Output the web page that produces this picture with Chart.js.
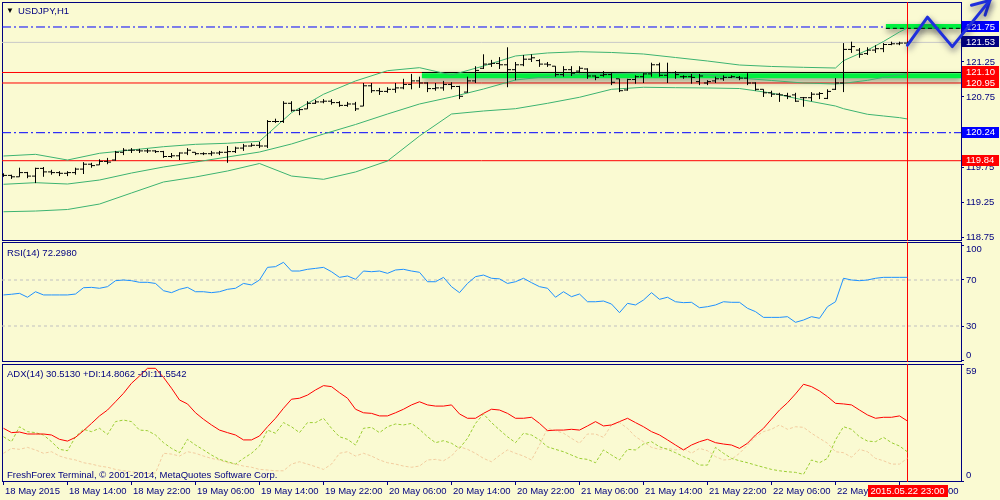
<!DOCTYPE html>
<html>
<head>
<meta charset="utf-8">
<script src="https://cdn.jsdelivr.net/npm/chart.js@4.4.1/dist/chart.umd.min.js"></script>
<style>
  html, body { margin: 0; padding: 0; background: #FAFAD2; }
  #wrap { position: relative; width: 1000px; height: 500px; overflow: hidden; }
  canvas { position: absolute; left: 0; }
  .lbl { position: absolute; font: 9.5px "Liberation Sans", Arial, sans-serif; color: #000080; line-height: 11px; white-space: nowrap; }
</style>
</head>
<body>
<div id="wrap">
  <canvas id="price" width="1000" height="242" style="top:0"></canvas>
  <canvas id="rsi" width="1000" height="121" style="top:242px"></canvas>
  <canvas id="adx" width="1000" height="138" style="top:362px"></canvas>
  <div class="lbl" style="left:6px;top:5px;color:#000;font-size:8px">▼</div>
  <div class="lbl" style="left:18px;top:5px">USDJPY,H1</div>
  <div class="lbl" style="left:7px;top:247px">RSI(14) 72.2980</div>
  <div class="lbl" style="left:7px;top:368px">ADX(14) 30.5130 +DI:14.8062 -DI:11.5542</div>
  <div class="lbl" style="left:7px;top:469px">FreshForex Terminal, © 2001-2014, MetaQuotes Software Corp.</div>
</div>
<script>
const NAVY = "#000080"
const FAMILY = "'Liberation Sans', Arial, sans-serif"
const FONT = { family: FAMILY, size: 9.5 }
const X_MIN = -0.1875
const X_MAX = 119.6875
const P_MIN = 118.693
const P_MAX = 122.107

// H1 bars, 18 May 06:00 .. 22 May 23:00
const openP = [
  119.64,119.63,119.61,119.67,119.62,119.73,119.68,119.67,119.66,119.67,
  119.72,119.79,119.78,119.83,119.85,119.96,119.99,119.99,119.98,119.98,
  119.97,119.90,119.91,119.95,119.96,119.94,119.94,119.95,119.96,119.97,
  120.02,120.05,120.06,120.05,120.40,120.40,120.66,120.56,120.58,120.66,
  120.68,120.69,120.67,120.63,120.65,120.62,120.91,120.84,120.83,120.86,
  120.88,120.93,120.98,120.95,120.87,120.88,120.93,120.90,120.82,120.98,
  121.16,121.22,121.23,121.21,121.14,121.21,121.29,121.27,121.22,121.19,
  121.07,121.14,121.12,121.15,121.05,121.06,121.07,121.01,120.85,121.00,
  121.04,121.08,121.21,121.06,121.10,121.04,121.04,120.97,120.95,120.98,
  121.01,121.03,121.03,121.02,120.95,120.86,120.81,120.79,120.77,120.78,
  120.74,120.74,120.79,120.73,120.86,120.95,121.43,121.42,121.37,121.42,
  121.44,121.50,121.51,121.52]
const highP = [
  119.66,119.64,119.74,119.68,119.74,119.75,119.71,119.69,119.69,119.74,
  119.82,119.81,119.86,119.88,119.98,120.02,120.02,120.01,120.01,119.99,
  119.98,119.95,119.96,120.02,119.96,119.96,119.98,119.98,120.05,120.04,
  120.08,120.09,120.11,120.42,120.44,120.69,120.69,120.59,120.69,120.71,
  120.72,120.72,120.69,120.68,120.68,120.95,120.95,120.88,120.89,120.95,
  121.01,121.08,121.04,120.96,120.95,120.98,120.96,120.91,121.04,121.19,
  121.36,121.28,121.32,121.46,121.25,121.35,121.36,121.29,121.25,121.19,
  121.19,121.19,121.19,121.16,121.06,121.12,121.09,121.01,121.01,121.06,
  121.09,121.24,121.24,121.24,121.12,121.06,121.08,121.08,120.99,121.04,
  121.06,121.06,121.05,121.09,120.96,120.86,120.84,120.81,120.81,120.81,
  120.75,120.82,120.82,120.86,121.02,121.52,121.54,121.45,121.46,121.49,
  121.52,121.54,121.54,121.54]
const lowP = [
  119.61,119.58,119.61,119.59,119.52,119.61,119.64,119.62,119.62,119.64,
  119.65,119.74,119.78,119.79,119.84,119.92,119.95,119.95,119.95,119.95,
  119.88,119.88,119.85,119.92,119.92,119.92,119.91,119.92,119.81,119.95,
  119.98,120.04,120.02,120.02,120.38,120.38,120.54,120.49,120.58,120.65,
  120.66,120.64,120.61,120.61,120.55,120.62,120.81,120.78,120.81,120.81,
  120.86,120.86,120.88,120.82,120.84,120.84,120.86,120.72,120.81,120.95,
  121.15,121.18,121.15,120.89,120.99,121.19,121.25,121.18,121.18,121.04,
  121.04,121.05,121.09,121.01,120.99,121.04,120.92,120.82,120.84,120.94,
  120.95,121.04,121.04,120.95,121.01,121.01,120.94,120.92,120.92,120.95,
  120.98,121.02,120.99,120.92,120.84,120.75,120.75,120.68,120.72,120.68,
  120.61,120.69,120.72,120.72,120.85,120.82,121.38,121.31,121.35,121.38,
  121.39,121.49,121.49,121.51]
const closeP = [
  119.63,119.61,119.67,119.62,119.73,119.68,119.67,119.66,119.67,119.72,
  119.79,119.77,119.83,119.82,119.96,119.99,119.99,119.98,119.98,119.97,
  119.90,119.91,119.95,119.99,119.94,119.94,119.95,119.96,119.97,120.02,
  120.05,120.06,120.05,120.40,120.40,120.66,120.56,120.57,120.66,120.68,
  120.69,120.67,120.63,120.65,120.58,120.91,120.84,120.83,120.86,120.88,
  120.93,120.98,120.95,120.87,120.88,120.93,120.90,120.76,120.98,121.13,
  121.22,121.23,121.21,121.14,121.21,121.29,121.31,121.22,121.21,121.07,
  121.14,121.09,121.16,121.05,121.03,121.07,120.96,120.84,121.00,121.04,
  121.08,121.21,121.06,121.10,121.07,121.04,121.03,121.05,120.97,121.01,
  121.03,121.04,121.02,120.95,120.86,120.81,120.79,120.78,120.76,120.69,
  120.74,120.79,120.80,120.83,120.95,121.43,121.47,121.36,121.42,121.44,
  121.50,121.51,121.52,121.53]

// Bollinger bands read at these bars
const bbIdx = [0,4,8,12,16,20,24,28,32,36,40,44,48,52,56,60,64,68,72,76,80,84,88,92,96,100,104,105,108,110,112,113]
const bbUpper = [119.907,119.931,119.850,119.946,119.993,120.040,120.074,120.089,120.117,120.526,120.789,120.979,121.126,121.169,121.064,121.193,
  121.336,121.379,121.397,121.386,121.364,121.314,121.264,121.207,121.186,121.174,121.164,121.269,121.421,121.543,121.679,121.736]
const bbMiddle = [119.503,119.526,119.507,119.564,119.664,119.750,119.821,119.893,119.964,120.079,120.221,120.357,120.507,120.650,120.750,120.864,
  120.993,121.043,121.071,121.086,121.093,121.086,121.064,121.021,120.986,120.950,120.936,120.946,120.988,121.031,121.069,121.086]
const bbLower = [119.111,119.121,119.143,119.221,119.379,119.536,119.607,119.693,119.800,119.621,119.574,119.679,119.836,120.193,120.507,120.550,
  120.583,120.660,120.746,120.860,120.889,120.883,120.879,120.871,120.807,120.707,120.621,120.583,120.503,120.479,120.455,120.436]

const rsiVals = [
  57,57.6,58.4,55,59.8,57,57,57,57,57.8,
  63.3,63.6,62.8,64.2,69.4,70,69.4,68,68,67,
  60.7,59,61.9,63.6,59.8,59.8,59,59.8,61.9,62.8,
  67,65.7,70,81,81.6,85.4,77.8,77.8,79.3,80.1,
  81,77.2,72.3,73.5,70.6,77.8,77.2,77.8,75.8,78.7,
  79.3,77.8,76.7,68.5,68.5,72.3,64.2,59,67,72.9,
  74.3,71.5,71,67,68.5,71.5,67.7,64.2,62.8,55,
  59.8,55.5,57.8,51.1,51.1,51.7,49.1,41.6,49.7,48.3,
  52.6,59,53.2,55,51.1,50.3,50.6,45.9,46.8,48.3,
  51.1,50.6,50.6,45.4,42.5,37.5,37.5,37.5,38.1,33.2,
  35.2,38.1,36.7,46.8,51.1,71.5,70,69.4,70,71.5,
  72.3,72.3,72.3,72.3]

const adxVals = [
  26.8,24.6,24.9,23.9,23.9,23.9,23.4,21.2,20.3,22.2,
  25.6,29.3,33.1,36.1,40.3,44.6,49.7,53.4,57.3,57.3,
  52.7,47.2,41.2,39.2,34.7,31.4,28.5,25.9,24.6,23.4,
  20.9,20.9,22.9,27.6,31.9,37.0,41.6,42.1,43.7,46.3,
  48.5,48.0,44.9,42.1,36.5,34.7,34.4,33.1,33.1,34.7,
  36.5,38.7,40.3,38.7,38.1,38.1,38.7,34.1,31.9,31.9,
  34.4,36.5,36.1,34.4,31.9,31.9,32.4,29.3,25.6,25.9,
  25.9,26.3,25.9,28.0,30.2,28.0,28.5,30.2,31.9,29.7,
  27.6,25.1,23.4,20.9,18.3,15.8,18.3,20.0,21.2,19.5,
  18.8,18.3,16.6,19.2,23.4,26.8,31.5,36.1,39.8,44.3,
  49.2,48.0,45.8,42.9,39.5,39.2,38.7,36.1,33.6,31.9,
  32.4,32.4,33.1,30.5]
const plusDI = [
  22.5,20.0,27.6,25.1,24.6,23.4,20.0,16.1,15.4,22.5,
  26.3,25.1,26.8,23.7,30.2,31.0,30.2,25.9,25.6,23.4,
  19.5,16.6,14.4,21.2,18.3,15.8,13.2,11.0,9.8,8.6,
  11.5,14.1,17.8,25.9,24.3,29.7,27.6,24.6,29.7,29.7,
  31.9,26.8,22.5,21.2,18.3,26.8,27.3,24.6,27.6,29.0,
  28.5,29.3,26.3,22.5,19.5,20.5,19.2,16.6,21.7,29.3,
  34.1,29.7,26.0,22.5,19.5,24.3,23.4,20.9,17.4,16.1,
  14.9,13.2,11.5,11.0,9.3,15.8,13.2,10.7,16.1,15.8,
  18.8,20.0,17.4,16.1,14.4,12.4,10.7,8.1,8.1,17.1,
  14.1,11.5,10.3,9.3,8.1,7.0,5.9,5.2,4.7,4.4,
  3.4,10.7,9.3,11.5,20.9,27.6,26.3,22.5,20.3,20.0,
  22.2,19.5,17.8,14.8]
const minusDI = [
  14.1,16.6,16.1,17.1,15.8,14.1,14.9,12.7,11.5,10.7,
  9.3,8.6,7.6,7.0,5.9,5.2,4.7,4.1,3.8,4.1,
  14.1,13.7,12.7,14.9,14.1,12.7,11.5,10.7,9.3,8.6,
  7.6,7.0,5.9,5.6,5.2,5.2,8.6,9.8,8.6,7.3,
  5.9,8.6,14.1,14.9,12.7,14.1,12.7,10.7,9.3,8.6,
  7.6,7.0,7.6,10.7,11.0,10.3,12.7,17.4,16.1,14.1,
  11.5,9.8,13.0,15.8,14.1,12.7,10.7,18.3,26.8,25.6,
  24.3,21.7,19.2,23.9,23.9,22.2,28.5,29.7,26.8,22.5,
  20.0,17.1,16.1,16.6,15.8,16.6,14.1,16.6,15.4,12.4,
  10.7,11.0,14.1,18.3,22.5,25.1,26.3,28.5,26.3,27.6,
  27.3,24.3,21.7,19.2,14.9,14.4,12.1,16.1,14.9,11.5,
  10.3,8.6,8.6,11.6]

const timeTickIdx = [0,8,16,24,32,40,48,56,64,72,80,88,96,104,112]
const timeLabels = ["18 May 2015","18 May 14:00","18 May 22:00","19 May 06:00","19 May 14:00","19 May 22:00",
  "20 May 06:00","20 May 14:00","20 May 22:00","21 May 06:00","21 May 14:00","21 May 22:00",
  "22 May 06:00","22 May 14:00","22 May 22:00"]
const lastBar = 113
const lastTime = "2015.05.22 23:00"

const priceTicks = [118.75,119.25,119.75,120.25,120.75,121.25,121.75]
const rsiTicks = [0,30,70,100]
const rsiLevels = [70,30]
const adxTicks = [0,59]

// horizontal lines on the price panel
const levelPrices = [121.75,120.24,121.10,120.95,119.84]
const levelColors = ["#0000FF","#0000FF","#FF0000","#FF0000","#FF0000"]
const levelDash = [[9,3,2,3],[9,3,2,3],[],[],[]]
const bidPrice = 121.53

// price tags on the right axis
const tagPrices = [121.75,121.53,121.10,120.95,120.24,119.84]
const tagColors = ["#0000FF","#000080","#FF0000","#FF0000","#0000FF","#FF0000"]

// green zones and the hand drawn arrow
const zoneFrom = [52.3,110.3]
const zoneMid = [121.053,121.757]
const zoneEdge = [121.10,121.731]
const zoneEdgeDash = [[],[4,3]]
const arrowX = [113,115.5,118.6,123.3]
const arrowY = [121.49,121.89,121.47,122.13]
const headX = [121.0,123.3,122.7]
const headY = [122.06,122.13,121.92]

function hline(v, from = X_MIN, to = X_MAX) {
  return [{ x: from, y: v }, { x: to, y: v }]
}

function lineDs(data, color, extra = {}) {
  return Object.assign({ type: "line", data, borderColor: color, borderWidth: 1,
    pointRadius: 0, tension: 0, fill: false }, extra)
}

function xy(xs, ys) {
  return xs.map((x, k) => ({ x, y: ys[k] }))
}

// OHLC bars as broken line segments
const ohlcPts = []
openP.forEach((o, i) => {
  const c = closeP[i]
  ohlcPts.push({ x: i, y: lowP[i] }, { x: i, y: highP[i] }, { x: i, y: null },
    { x: i - 0.44, y: o }, { x: i, y: o }, { x: i, y: null },
    { x: i, y: c }, { x: i + 0.44, y: c }, { x: i, y: null })
})

const shadowPlugin = {
  id: "shadows",
  beforeDatasetDraw(chart, args) {
    const ds = chart.data.datasets[args.index]
    if (!ds.shadow) return
    const ctx = chart.ctx
    ctx.save()
    ctx.shadowColor = ds.shadow
    ctx.shadowBlur = 6
    ctx.shadowOffsetX = 1
    ctx.shadowOffsetY = 3
  },
  afterDatasetDraw(chart, args) {
    if (chart.data.datasets[args.index].shadow) chart.ctx.restore()
  }
}

const framePlugin = {
  id: "frame",
  beforeDatasetsDraw(chart) {
    const { ctx, chartArea: a } = chart
    ctx.save()
    ctx.strokeStyle = NAVY
    ctx.lineWidth = 1
    ctx.strokeRect(a.left + 0.5, a.top + 0.5, a.right - a.left, a.bottom - a.top - 1)
    ctx.restore()
  }
}

// keep the first/last axis labels inside their panel like the terminal does
const insideLabels = {
  id: "insideLabels",
  beforeDraw(chart) {
    const s = chart.scales.y
    const a = chart.chartArea
    if (!s || typeof s.getLabelItems !== "function") return
    s.getLabelItems().forEach(it => {
      const t = it.options.translation
      t[1] = Math.min(Math.max(t[1], a.top + 7.5), a.bottom - 6.5)
    })
  }
}

const tagPlugin = {
  id: "tags",
  beforeDatasetsDraw(chart) {
    const { ctx, chartArea: a, scales: { y } } = chart
    ctx.save()
    ctx.font = "9.5px " + FAMILY
    ctx.textBaseline = "middle"
    tagPrices.forEach((p, k) => {
      const py = y.getPixelForValue(p)
      ctx.fillStyle = tagColors[k]
      ctx.fillRect(a.right + 1, Math.round(py) - 6, 37, 11)
      ctx.fillStyle = "#FFFFFF"
      ctx.fillText(p.toFixed(2), a.right + 5, py)
    })
    ctx.restore()
  }
}

const timeTagPlugin = {
  id: "timeTag",
  afterDraw(chart) {
    const { ctx, chartArea: a, scales: { x } } = chart
    const px = x.getPixelForValue(lastBar)
    ctx.save()
    ctx.fillStyle = "#FF0000"
    ctx.fillRect(Math.round(px) - 40, a.bottom + 3, 80, 12)
    ctx.fillStyle = "#FFFFFF"
    ctx.font = "9.5px " + FAMILY
    ctx.textAlign = "center"
    ctx.textBaseline = "middle"
    ctx.fillText(lastTime, px, a.bottom + 9.5)
    ctx.restore()
  }
}

function yAxis(min, max, ticks, fmt) {
  return {
    type: "linear", position: "right", min, max,
    afterFit(s) { s.width = 39; s.paddingTop = 0; s.paddingBottom = 0 },
    afterBuildTicks(s) { s.ticks = ticks.map(v => ({ value: v })) },
    ticks: { color: NAVY, font: FONT, padding: 2, callback: fmt },
    grid: { drawOnChartArea: false, color: NAVY, tickLength: 3 },
    border: { display: false }
  }
}

function hiddenX() {
  return { type: "linear", min: X_MIN, max: X_MAX, offset: false, display: false }
}

function timeX() {
  return {
    type: "linear", position: "bottom", min: X_MIN, max: X_MAX, offset: false,
    afterFit(s) { s.height = 18; s.paddingLeft = 0; s.paddingRight = 0 },
    afterBuildTicks(s) { s.ticks = timeTickIdx.map(v => ({ value: v })) },
    ticks: { align: "start", autoSkip: false, maxRotation: 0, minRotation: 0, color: NAVY,
      font: FONT, padding: 1, labelOffset: 1.5, callback: (v, k) => timeLabels[k] },
    grid: { drawOnChartArea: false, color: NAVY, tickLength: 3 },
    border: { display: false }
  }
}

function options(x, y, padding) {
  return {
    responsive: false, animation: false, devicePixelRatio: 1, events: [],
    layout: { padding },
    plugins: { legend: { display: false }, tooltip: { enabled: false } },
    scales: { x, y }
  }
}

// price panel
const priceSets = []
levelPrices.forEach((p, k) => priceSets.push(lineDs(hline(p), levelColors[k], { borderDash: levelDash[k], order: 10 })))
priceSets.push(lineDs(hline(bidPrice), "#C8C8C8", { order: 10 }))
zoneMid.forEach((p, k) => {
  priceSets.push(lineDs(hline(p, zoneFrom[k]), "#00F040", { borderWidth: 5, order: 8, shadow: "rgba(40,40,40,0.55)" }))
  priceSets.push(lineDs(hline(zoneEdge[k], zoneFrom[k]), "#000000", { borderDash: zoneEdgeDash[k], order: 7 }))
})
;[bbUpper, bbMiddle, bbLower].forEach(band => priceSets.push(lineDs(xy(bbIdx, band), "#3CB371", { order: 6 })))
priceSets.push(lineDs([{ x: lastBar, y: P_MIN }, { x: lastBar, y: P_MAX }], "#FF0000", { order: 5 }))
priceSets.push(lineDs(ohlcPts, "#000000", { order: 3, spanGaps: false }))
priceSets.push(lineDs(xy(arrowX, arrowY), "#1F2FDC", { borderWidth: 3, order: 1, clip: false,
  borderJoinStyle: "round", borderCapStyle: "round", shadow: "rgba(20,20,60,0.6)" }))
priceSets.push(lineDs(xy(headX, headY), "#1F2FDC", { borderWidth: 3, order: 1, clip: false,
  borderJoinStyle: "round", borderCapStyle: "round", shadow: "rgba(20,20,60,0.6)" }))

new Chart(document.getElementById("price"), {
  type: "line",
  data: { datasets: priceSets },
  options: options(hiddenX(), yAxis(P_MIN, P_MAX, priceTicks, v => v.toFixed(2)),
    { left: 2, top: 2, right: 0, bottom: 1 }),
  plugins: [framePlugin, tagPlugin, shadowPlugin]
})

// RSI panel
const rsiSets = rsiLevels.map(v => lineDs(hline(v), "#C0C0C0", { borderDash: [3, 3], order: 10 }))
rsiSets.push(lineDs([{ x: lastBar, y: -1.3 }, { x: lastBar, y: 103.04 }], "#FF0000", { order: 5 }))
rsiSets.push(lineDs(rsiVals.map((y, i) => ({ x: i, y })), "#1E90FF", { order: 1 }))

new Chart(document.getElementById("rsi"), {
  type: "line",
  data: { datasets: rsiSets },
  options: options(hiddenX(), yAxis(-1.3, 103.04, rsiTicks, v => String(v)),
    { left: 2, top: 0, right: 0, bottom: 1 }),
  plugins: [insideLabels, framePlugin]
})

// ADX panel
const adxSets = [
  lineDs([{ x: lastBar, y: -0.5 }, { x: lastBar, y: 59.5 }], "#FF0000", { order: 5 }),
  lineDs(minusDI.map((y, i) => ({ x: i, y })), "#F2CC9F", { borderDash: [3, 2], order: 4 }),
  lineDs(plusDI.map((y, i) => ({ x: i, y })), "#9ACD32", { borderDash: [3, 2], order: 3 }),
  lineDs(adxVals.map((y, i) => ({ x: i, y })), "#FF0000", { order: 1 })
]

new Chart(document.getElementById("adx"), {
  type: "line",
  data: { datasets: adxSets },
  options: options(timeX(), yAxis(-0.5, 59.5, adxTicks, v => String(v)),
    { left: 2, top: 2, right: 0, bottom: 0 }),
  plugins: [insideLabels, framePlugin, timeTagPlugin]
})
</script>
</body>
</html>
